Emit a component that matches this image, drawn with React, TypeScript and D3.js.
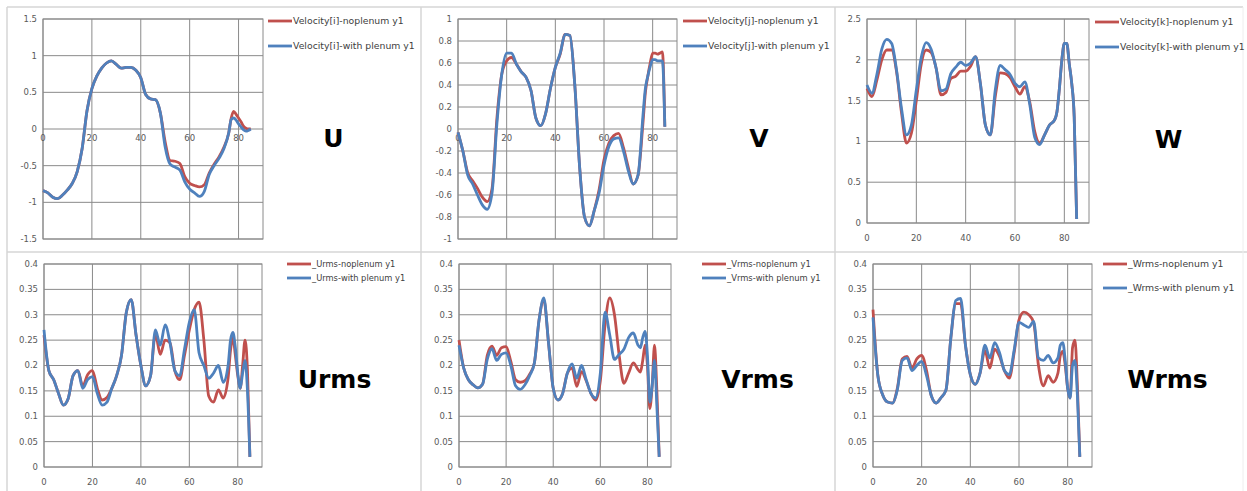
import React from 'react';
import * as d3 from 'd3';

// Position along the duct (shared by every series)
const X = [
  0, 2, 4, 6, 8, 10, 12, 14, 16, 18, 20, 22, 24, 26, 28, 30, 32, 34, 36, 38,
  40, 42, 44, 46, 48, 50, 52, 54, 56, 58, 60, 62, 64, 66, 68, 70, 72, 74, 76,
  77, 78, 79, 80, 81, 82, 83, 84, 85,
];

// Mean velocity components
const uNoPlenum = [
  -0.84, -0.87, -0.93, -0.95, -0.9, -0.83, -0.74, -0.58, -0.27, 0.25, 0.55, 0.72, 0.83, 0.9, 0.93, 0.88, 0.83, 0.84, 0.84, 0.8,
  0.7, 0.47, 0.41, 0.4, 0.22, -0.18, -0.43, -0.44, -0.47, -0.65, -0.74, -0.77, -0.79, -0.76, -0.6, -0.48, -0.38, -0.25, -0.05,
  0.15, 0.24, 0.2, 0.15, 0.1, 0.04, 0.01, 0, 0,
];
const uPlenum = [
  -0.84, -0.87, -0.93, -0.95, -0.9, -0.83, -0.74, -0.58, -0.27, 0.25, 0.55, 0.72, 0.83, 0.9, 0.93, 0.88, 0.83, 0.84, 0.84, 0.8,
  0.7, 0.47, 0.41, 0.4, 0.22, -0.25, -0.48, -0.52, -0.56, -0.72, -0.82, -0.87, -0.92, -0.85, -0.62, -0.5, -0.4, -0.27, -0.05,
  0.13, 0.15, 0.12, 0.07, 0.03, -0.01, -0.03, -0.02, 0,
];
const vNoPlenum = [
  -0.03, -0.2, -0.4, -0.47, -0.54, -0.62, -0.66, -0.54, 0.1, 0.5, 0.62, 0.65, 0.59, 0.52, 0.47, 0.35, 0.1, 0.03, 0.14, 0.37,
  0.56, 0.68, 0.86, 0.85, 0.4, -0.35, -0.8, -0.88, -0.74, -0.55, -0.28, -0.13, -0.06, -0.04, -0.17, -0.35, -0.5, -0.42, 0.05,
  0.33, 0.48, 0.6, 0.69, 0.69, 0.68, 0.69, 0.7, 0.02,
];
const vPlenum = [
  -0.03, -0.2, -0.42, -0.5, -0.6, -0.69, -0.73, -0.58, 0.05, 0.5, 0.69, 0.69, 0.59, 0.52, 0.47, 0.35, 0.1, 0.03, 0.14, 0.37,
  0.56, 0.69, 0.86, 0.85, 0.4, -0.35, -0.8, -0.88, -0.74, -0.58, -0.33, -0.16, -0.09, -0.08, -0.2, -0.38, -0.5, -0.42, 0.12,
  0.37, 0.48, 0.57, 0.63, 0.63, 0.62, 0.62, 0.62, 0.02,
];
const wNoPlenum = [
  1.65, 1.55, 1.75, 2.0, 2.12, 2.12, 1.85, 1.35, 0.98, 1.1, 1.5, 1.95, 2.12, 2.09, 1.9, 1.57, 1.6, 1.77, 1.8, 1.86,
  1.86, 1.92, 2.04, 1.7, 1.2, 1.08, 1.55, 1.84, 1.83, 1.78, 1.67, 1.58, 1.67, 1.48, 1.12, 0.98, 1.08, 1.2, 1.26,
  1.36, 1.65, 2.0, 2.2, 2.2, 1.95, 1.71, 1.3, 0.05,
];
const wPlenum = [
  1.69, 1.59, 1.82, 2.13, 2.25, 2.2, 1.87, 1.4, 1.08, 1.2, 1.63, 2.03, 2.21, 2.13, 1.9, 1.62, 1.64, 1.83, 1.91, 1.97,
  1.93, 1.96, 2.04, 1.7, 1.2, 1.08, 1.63, 1.93, 1.88, 1.82, 1.71, 1.67, 1.73, 1.45, 1.05, 0.96, 1.08, 1.2, 1.26,
  1.36, 1.65, 2.0, 2.2, 2.2, 1.95, 1.71, 1.3, 0.05,
];

// RMS fluctuations
const urmsNoPlenum = [
  0.26, 0.19, 0.172, 0.145, 0.122, 0.135, 0.18, 0.19, 0.16, 0.182, 0.19, 0.155, 0.132, 0.137, 0.155, 0.18, 0.22, 0.305, 0.33, 0.26,
  0.2, 0.16, 0.18, 0.262, 0.222, 0.25, 0.245, 0.19, 0.172, 0.22, 0.27, 0.31, 0.325, 0.25, 0.14, 0.128, 0.152, 0.136, 0.175,
  0.23, 0.255, 0.22, 0.18, 0.155, 0.2, 0.25, 0.19, 0.02,
];
const urmsPlenum = [
  0.27, 0.19, 0.172, 0.145, 0.122, 0.135, 0.18, 0.19, 0.155, 0.172, 0.178, 0.145, 0.122, 0.128, 0.155, 0.18, 0.22, 0.305, 0.33, 0.26,
  0.2, 0.16, 0.18, 0.27, 0.24, 0.28, 0.245, 0.19, 0.18, 0.232, 0.285, 0.31, 0.225, 0.2, 0.175, 0.185, 0.2, 0.167, 0.2,
  0.25, 0.265, 0.235, 0.185, 0.155, 0.185, 0.21, 0.15, 0.02,
];
const vrmsNoPlenum = [
  0.25, 0.195, 0.172, 0.162, 0.156, 0.163, 0.22, 0.238, 0.22, 0.235, 0.237, 0.208, 0.172, 0.167, 0.17, 0.183, 0.205, 0.29, 0.33, 0.245,
  0.155, 0.132, 0.145, 0.185, 0.195, 0.159, 0.188, 0.17, 0.145, 0.132, 0.17, 0.28, 0.333, 0.3, 0.22, 0.165, 0.185, 0.205, 0.192,
  0.187, 0.21, 0.24, 0.2, 0.115, 0.16, 0.24, 0.15, 0.02,
];
const vrmsPlenum = [
  0.24, 0.195, 0.172, 0.162, 0.156, 0.163, 0.212, 0.233, 0.21, 0.222, 0.225, 0.2, 0.16, 0.153, 0.162, 0.18, 0.205, 0.29, 0.333, 0.245,
  0.155, 0.132, 0.145, 0.185, 0.203, 0.175, 0.2, 0.172, 0.145, 0.136, 0.185, 0.305, 0.26, 0.212, 0.222, 0.232, 0.255, 0.264, 0.24,
  0.235, 0.255, 0.267, 0.22, 0.128, 0.16, 0.21, 0.12, 0.02,
];
const wrmsNoPlenum = [
  0.31, 0.18, 0.142, 0.128, 0.126, 0.155, 0.213, 0.218, 0.195, 0.213, 0.22, 0.19, 0.14, 0.126, 0.137, 0.152, 0.255, 0.322, 0.322, 0.24,
  0.182, 0.163, 0.185, 0.23, 0.195, 0.232, 0.218, 0.19, 0.175, 0.225, 0.29, 0.305, 0.3, 0.285, 0.2, 0.16, 0.18, 0.167, 0.185,
  0.22, 0.228, 0.2, 0.155, 0.136, 0.235, 0.25, 0.16, 0.02,
];
const wrmsPlenum = [
  0.295, 0.18, 0.142, 0.128, 0.126, 0.152, 0.21, 0.215, 0.19, 0.2, 0.208, 0.18, 0.14, 0.126, 0.137, 0.152, 0.255, 0.328, 0.332, 0.24,
  0.182, 0.163, 0.185, 0.24, 0.215, 0.245, 0.225, 0.19, 0.182, 0.23, 0.285, 0.28, 0.275, 0.287, 0.215, 0.21, 0.22, 0.205, 0.215,
  0.24, 0.245, 0.21, 0.155, 0.136, 0.2, 0.21, 0.14, 0.02,
];

const X_TICKS = [0, 20, 40, 60, 80];
const X_DOMAIN: [number, number] = [0, 90];

const RED = '#C0504D';
const BLUE = '#4F81BD';
const GRID = '#8a8a8a';
const FRAME = '#d6d6d6';
const LABEL = '#595959';
const FONT = '"DejaVu Sans", sans-serif';
const LINE_W = 2.8;

type Box = { l: number; r: number; t: number; b: number };
type PanelSpec = {
  title: string;
  names: [string, string];
  red: number[];
  blue: number[];
  yDomain: [number, number];
  yStep: number;
  box: Box;
  xLabelsOnZero: boolean;
  legend: { x: number; y1: number; y2: number; size: number };
  titlePos: [number, number];
};

const panels: PanelSpec[] = [
  {
    title: 'U',
    names: ['Velocity[i]-noplenum y1', 'Velocity[i]-with plenum y1'],
    red: uNoPlenum, blue: uPlenum,
    yDomain: [-1.5, 1.5], yStep: 0.5,
    box: { l: 43, r: 263, t: 19, b: 239 },
    xLabelsOnZero: true,
    legend: { x: 268, y1: 21, y2: 46, size: 9.3 },
    titlePos: [333.5, 147],
  },
  {
    title: 'V',
    names: ['Velocity[j]-noplenum y1', 'Velocity[j]-with plenum y1'],
    red: vNoPlenum, blue: vPlenum,
    yDomain: [-1, 1], yStep: 0.2,
    box: { l: 458, r: 677, t: 19, b: 239 },
    xLabelsOnZero: true,
    legend: { x: 683, y1: 21, y2: 46, size: 9.3 },
    titlePos: [759, 147],
  },
  {
    title: 'W',
    names: ['Velocity[k]-noplenum y1', 'Velocity[k]-with plenum y1'],
    red: wNoPlenum, blue: wPlenum,
    yDomain: [0, 2.5], yStep: 0.5,
    box: { l: 867, r: 1089, t: 19, b: 223 },
    xLabelsOnZero: false,
    legend: { x: 1095, y1: 22, y2: 47, size: 9.3 },
    titlePos: [1168.5, 148],
  },
  {
    title: 'Urms',
    names: ['_Urms-noplenum y1', '_Urms-with plenum y1'],
    red: urmsNoPlenum, blue: urmsPlenum,
    yDomain: [0, 0.4], yStep: 0.05,
    box: { l: 44, r: 262, t: 264, b: 467 },
    xLabelsOnZero: false,
    legend: { x: 287, y1: 264, y2: 278, size: 8.3 },
    titlePos: [334.5, 388],
  },
  {
    title: 'Vrms',
    names: ['_Vrms-noplenum y1', '_Vrms-with plenum y1'],
    red: vrmsNoPlenum, blue: vrmsPlenum,
    yDomain: [0, 0.4], yStep: 0.05,
    box: { l: 459, r: 671, t: 264, b: 467 },
    xLabelsOnZero: false,
    legend: { x: 702, y1: 264, y2: 278, size: 8.4 },
    titlePos: [757.5, 388],
  },
  {
    title: 'Wrms',
    names: ['_Wrms-noplenum y1', '_Wrms-with plenum y1'],
    red: wrmsNoPlenum, blue: wrmsPlenum,
    yDomain: [0, 0.4], yStep: 0.05,
    box: { l: 873, r: 1092, t: 264, b: 467 },
    xLabelsOnZero: false,
    legend: { x: 1103, y1: 264, y2: 288, size: 9.3 },
    titlePos: [1167.5, 388],
  },
];

function fmt(v: number): string {
  return String(+v.toFixed(3));
}

function Panel({ p }: { p: PanelSpec }) {
  const { box } = p;
  const x = d3.scaleLinear().domain(X_DOMAIN).range([box.l, box.r]);
  const y = d3.scaleLinear().domain(p.yDomain).range([box.b, box.t]);
  const n = Math.round((p.yDomain[1] - p.yDomain[0]) / p.yStep);
  const yTicks = d3.range(n + 1).map((i) => p.yDomain[0] + i * p.yStep);
  const line = d3
    .line<number>()
    .x((_, i) => x(X[i]))
    .y((d) => y(d))
    .curve(d3.curveMonotoneX);
  const xLabelY = p.xLabelsOnZero ? y(0) + 9 : box.b + 15.5;

  return (
    <g>
      {yTicks.map((t) => (
        <line key={'h' + t} x1={box.l} x2={box.r} y1={y(t)} y2={y(t)} stroke={GRID} strokeWidth={1} />
      ))}
      {X_TICKS.map((t) => (
        <line key={'v' + t} x1={x(t)} x2={x(t)} y1={box.t} y2={box.b} stroke={GRID} strokeWidth={1} />
      ))}
      <rect x={box.l} y={box.t} width={box.r - box.l} height={box.b - box.t} fill="none" stroke={GRID} strokeWidth={1} />
      {yTicks.map((t) => (
        <text key={'yl' + t} x={box.l - 6} y={y(t)} dy="0.35em" textAnchor="end" fontSize={8.5} fill={LABEL} fontFamily={FONT}>
          {fmt(t)}
        </text>
      ))}
      {X_TICKS.map((t) => (
        <text key={'xl' + t} x={x(t)} y={xLabelY} dy="0.35em" textAnchor="middle" fontSize={8.5} fill={LABEL} fontFamily={FONT}>
          {t}
        </text>
      ))}
      <path d={line(p.red) ?? ''} fill="none" stroke={RED} strokeWidth={LINE_W} strokeLinejoin="round" />
      <path d={line(p.blue) ?? ''} fill="none" stroke={BLUE} strokeWidth={LINE_W} strokeLinejoin="round" />
      {[p.legend.y1, p.legend.y2].map((ly, i) => (
        <g key={'lg' + i}>
          <line x1={p.legend.x} x2={p.legend.x + 24} y1={ly} y2={ly} stroke={i === 0 ? RED : BLUE} strokeWidth={LINE_W} />
          <text x={p.legend.x + 25} y={ly} dy="0.35em" fontSize={p.legend.size} fill="#404040" fontFamily={FONT}>
            {p.names[i]}
          </text>
        </g>
      ))}
      <text x={p.titlePos[0]} y={p.titlePos[1]} textAnchor="middle" fontSize={25} fontWeight="bold" fill="#000" fontFamily={FONT}>
        {p.title}
      </text>
    </g>
  );
}

export default function App() {
  return (
    <svg
      width={1247}
      height={491}
      viewBox="0 0 1247 491"
      style={{ position: 'absolute', left: 0, top: 0, background: '#fff' }}
    >
      <rect x={0} y={0} width={1247} height={491} fill="#fff" />
      {/* panel frames */}
      <line x1={7} x2={1243} y1={7} y2={7} stroke={FRAME} strokeWidth={1.5} />
      <line x1={7} x2={1247} y1={252} y2={252} stroke={FRAME} strokeWidth={1.5} />
      <line x1={7} x2={7} y1={7} y2={491} stroke={FRAME} strokeWidth={1.5} />
      <line x1={421} x2={421} y1={7} y2={491} stroke={FRAME} strokeWidth={1.5} />
      <line x1={835} x2={835} y1={7} y2={491} stroke={FRAME} strokeWidth={1.5} />
      <line x1={1243} x2={1243} y1={7} y2={491} stroke="#eeeeee" strokeWidth={1} />
      {panels.map((p) => (
        <Panel key={p.title} p={p} />
      ))}
    </svg>
  );
}
